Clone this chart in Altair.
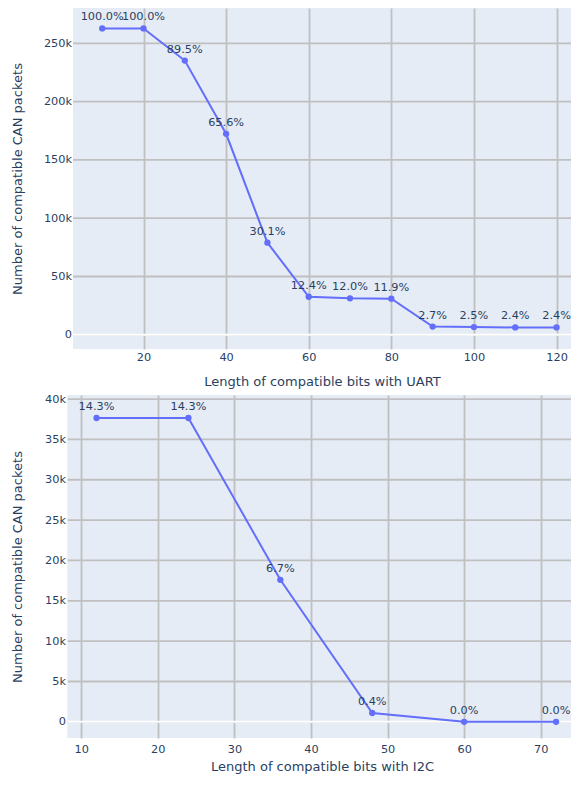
import altair as alt
import pandas as pd

# ---- data ----
uart_bits = [10, 20, 30, 40, 50, 60, 70, 80, 90, 100, 110, 120]
uart_counts = [262800, 262800, 235200, 172400, 79000, 32600, 31300, 31000, 7000, 6600, 6300, 6300]
uart_labels = ["100.0%", "100.0%", "89.5%", "65.6%", "30.1%", "12.4%", "12.0%", "11.9%",
               "2.7%", "2.5%", "2.4%", "2.4%"]

i2c_bits = [12, 24, 36, 48, 60, 72]
i2c_counts = [37650, 37650, 17600, 1100, 0, 0]
i2c_labels = ["14.3%", "14.3%", "6.7%", "0.4%", "0.0%", "0.0%"]

uart_xticks = [20, 40, 60, 80, 100, 120]
uart_yticks = [0, 50000, 100000, 150000, 200000, 250000]
i2c_xticks = [10, 20, 30, 40, 50, 60, 70]
i2c_yticks = [0, 5000, 10000, 15000, 20000, 25000, 30000, 35000, 40000]

FONT = "DejaVu Sans"
TXT = "#2a3f5f"
LINE = "#636efa"
GRID = "#c0c0c0"
BG = "#E5ECF6"


def panel(bits, counts, labels, xticks, yticks, xdom, ydom, xtitle, w, h,
          xlabpad, tpad, ylabpad, strip):
    df = pd.DataFrame({"bits": bits, "count": counts, "label": labels})
    yscale = alt.Scale(domain=ydom, nice=False, zero=False)
    x = alt.X("bits:Q",
              scale=alt.Scale(domain=xdom, nice=False, zero=False),
              axis=alt.Axis(values=xticks, title=xtitle, grid=True, gridColor=GRID,
                            gridWidth=1.8, domain=False, ticks=False, labelPadding=xlabpad,
                            labelFont=FONT, labelFontSize=11.3, labelColor=TXT,
                            titleFont=FONT, titleFontSize=13, titleColor=TXT,
                            titleFontWeight="normal", titlePadding=tpad))
    y = alt.Y("count:Q", scale=yscale,
              axis=alt.Axis(values=yticks,
                            labelExpr="datum.value == 0 ? '0' : format(datum.value / 1000, 'd') + 'k'",
                            title="Number of compatible CAN packets",
                            grid=False, domain=False, ticks=False,
                            labelPadding=ylabpad, labelFont=FONT, labelFontSize=11.3, labelColor=TXT,
                            titleFont=FONT, titleFontSize=13, titleColor=TXT,
                            titleFontWeight="normal", titleX=-56, titleBaseline="middle"))
    base = alt.Chart(df)
    layers = []
    if strip > 0:
        layers.append(alt.Chart(df).mark_rect(color=BG).encode(
            x=alt.value(-strip), x2=alt.value(0), y=alt.value(0), y2=alt.value(h)))
    grid = alt.Chart(pd.DataFrame({"t": yticks})).mark_rule(color=GRID, strokeWidth=1.8).encode(
        y=alt.Y("t:Q", scale=yscale), x=alt.value(-strip), x2=alt.value(w))
    zero = alt.Chart(pd.DataFrame({"z": [0]})).mark_rule(color="white", strokeWidth=2).encode(
        y=alt.Y("z:Q", scale=yscale), x=alt.value(-strip), x2=alt.value(w))
    line = base.mark_line(color=LINE, strokeWidth=2).encode(x=x, y=y)
    pts = base.mark_circle(color=LINE, size=40, opacity=1).encode(x=x, y=y)
    txt = base.mark_text(font=FONT, fontSize=11.3, color=TXT, dy=-11, baseline="middle").encode(
        x=x, y=y, text="label:N")
    layers += [grid, zero, line, pts, txt]
    return alt.layer(*layers).properties(width=w, height=h)


top = panel(uart_bits, uart_counts, uart_labels, uart_xticks, uart_yticks,
            [2.93, 123.5], [-12200, 280300], "Length of compatible bits with UART",
            498, 341, 2, 13, 1.5, 0)
bot = panel(i2c_bits, i2c_counts, i2c_labels, i2c_xticks, i2c_yticks,
            [8.93, 73.95], [-2000, 40500], "Length of compatible bits with I2C",
            498, 343, 5, 6, 7.5, 5.2)

chart = alt.concat(top, bot, columns=1, spacing=4).properties(
    padding={"left": 3, "top": 0, "right": 0, "bottom": 0},
).configure_view(fill=BG, stroke=None)

chart.save("out.html", embed_options={"renderer": "svg", "actions": False})
